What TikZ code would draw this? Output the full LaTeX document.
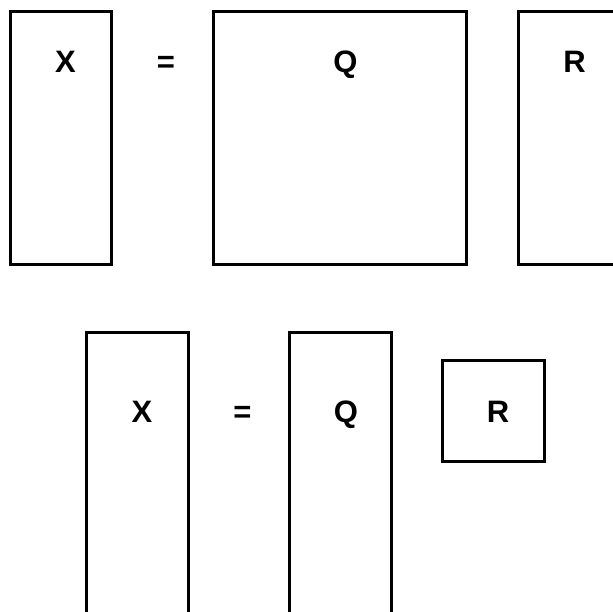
\documentclass[tikz,border=0pt]{standalone}
\usepackage{fontspec}
\setmainfont{Liberation Sans}
\begin{document}
\begin{tikzpicture}[x=1pt,y=-1pt,
  mbox/.style={draw=black,line width=3pt,fill=none},
  lbl/.style={font=\fontsize{31}{33}\selectfont\bfseries,anchor=base,inner sep=0pt}]
\useasboundingbox (0,0) rectangle (613,612);
\clip (0,0) rectangle (613,612);
% top row
\draw[mbox] (10,12) rectangle (111,265);
\draw[mbox] (213.5,12) rectangle (466.5,265);
\draw[mbox] (518.5,12) rectangle (640,265);
\node[lbl] (tx) at (65.5,73) {X};
\node[lbl] (teq) at (166,73) {=};
\node[lbl] (tq) at (345.5,73) {Q};
\node[lbl] (tr) at (574.5,73) {R};
% bottom row
\draw[mbox] (86,332) rectangle (188,640);
\draw[mbox] (289.5,332) rectangle (391,640);
\draw[mbox] (442,360) rectangle (544,461.5);
\node[lbl] (bx) at (142,422) {X};
\node[lbl] (beq) at (242.5,422) {=};
\node[lbl] (bq) at (346,422) {Q};
\node[lbl] (br) at (498,422) {R};
\end{tikzpicture}
\end{document}
